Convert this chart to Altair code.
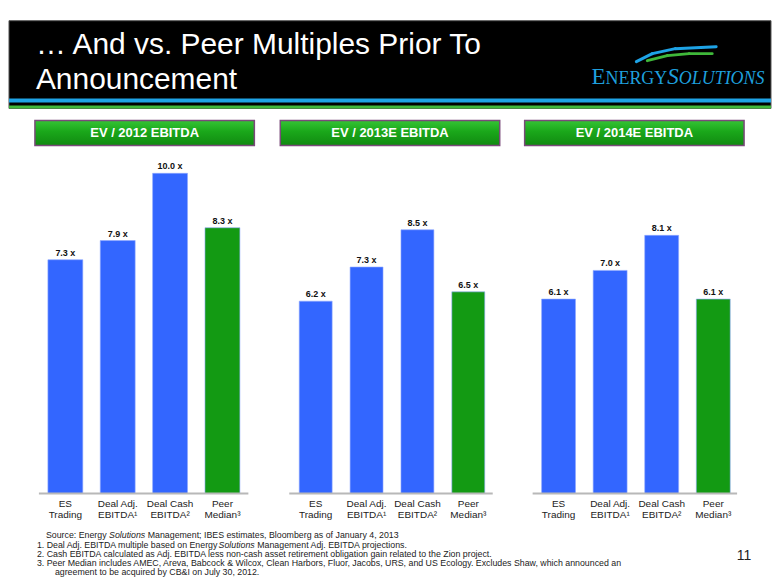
import altair as alt
import pandas as pd

# ---------------- data ----------------
categories = ["ES|Trading", "Deal Adj.|EBITDA¹", "Deal Cash|EBITDA²", "Peer|Median³"]
groups = ["deal", "deal", "deal", "peer"]
ev_2012 = [7.3, 7.9, 10.0, 8.3]
ev_2013 = [6.2, 7.3, 8.5, 6.5]
ev_2014 = [6.1, 7.0, 8.1, 6.1]
panel_titles = ["EV / 2012 EBITDA", "EV / 2013E EBITDA", "EV / 2014E EBITDA"]
title_lines = ["… And vs. Peer Multiples Prior To", "Announcement"]
footnotes = [
    [("Source:  Energy", False), ("Solutions", True),
     (" Management; IBES estimates, Bloomberg as of January 4, 2013", False)],
    [("1. Deal Adj. EBITDA multiple based on Energy", False), ("Solutions", True),
     (" Management Adj. EBITDA projections.", False)],
    [("2. Cash EBITDA calculated as Adj. EBITDA less non-cash asset retirement obligation gain related to the Zion project.", False)],
    [("3. Peer Median includes AMEC, Areva, Babcock & Wilcox, Clean Harbors, Fluor, Jacobs, URS, and US Ecology.  Excludes Shaw, which announced an", False)],
    [("agreement to be acquired by CB&I on July 30, 2012.", False)],
]
page_number = "11"

FONT = "Liberation Sans"
BLUE = "#3366ff"
GREEN = "#139a13"

# Arial / Liberation Sans advance widths (1/1000 em) for text layout
AW = dict(zip(" !\"#$%&'()*+,-./", [278, 278, 355, 556, 556, 889, 667, 191, 333, 333, 389, 584, 278, 333, 278, 278]))
AW.update({d: 556 for d in "0123456789"})
AW.update(dict(zip(":;<=>?@", [278, 278, 584, 584, 584, 556, 1015])))
AW.update(dict(zip("ABCDEFGHIJKLMNOPQRSTUVWXYZ",
                   [667, 667, 722, 722, 667, 611, 778, 722, 278, 500, 667, 556, 833, 722, 778, 667, 778, 722, 667, 611, 722, 667, 944, 667, 667, 611])))
AW.update(dict(zip("abcdefghijklmnopqrstuvwxyz",
                   [556, 556, 500, 556, 556, 278, 556, 556, 222, 222, 500, 222, 833, 556, 556, 556, 556, 333, 500, 278, 556, 500, 722, 500, 500, 500])))


def tw(s, fs):
    return sum(AW.get(c, 556) for c in s) * fs / 1000.0


one = pd.DataFrame({"k": [0]})

# ---------------- header ----------------
HW, HH = 764, 104
hdr = [
    alt.Chart(one).mark_rect(color="#000000", stroke="#555555", strokeWidth=1).encode(
        x=alt.value(0), x2=alt.value(HW), y=alt.value(12), y2=alt.value(100)),
    alt.Chart(one).mark_rect(color="#1ea3e6").encode(
        x=alt.value(0), x2=alt.value(HW), y=alt.value(90), y2=alt.value(94)),
    alt.Chart(one).mark_rect(color="#3fb83a").encode(
        x=alt.value(0), x2=alt.value(HW), y=alt.value(97), y2=alt.value(100)),
]
for i, line in enumerate(title_lines):
    hdr.append(alt.Chart(one).mark_text(
        text=line, font=FONT, fontSize=30, color="white", align="left", baseline="alphabetic"
    ).encode(x=alt.value(27), y=alt.value(45 + 35 * i)))

# logo swooshes
blue_pts = [(629, 53), (645, 45), (668, 40), (709, 38)]
green_pts = [(640, 52), (660, 47), (682, 45), (705, 45)]
for pts, col, w in [(blue_pts, "#1ea3e6", 3), (green_pts, "#3fb83a", 3)]:
    for (xa, ya), (xb, yb) in zip(pts[:-1], pts[1:]):
        hdr.append(alt.Chart(one).mark_rule(color=col, strokeWidth=w, strokeCap="round").encode(
            x=alt.value(xa), y=alt.value(ya), x2=alt.value(xb), y2=alt.value(yb)))

# logo word mark
TW_REG = {"E": 611, "N": 722, "R": 667, "G": 722, "Y": 722}
TW_IT = {"S": 500, "O": 722, "L": 556, "U": 722, "T": 556, "I": 333, "N": 667}
logo = [("E", 23, "normal", TW_REG), ("NERGY", 18, "normal", TW_REG),
        ("S", 23, "italic", TW_IT), ("OLUTIONS", 18, "italic", TW_IT)]
lx = 584
for txt, fs, style, tab in logo:
    hdr.append(alt.Chart(one).mark_text(
        text=txt, font="Liberation Serif", fontSize=fs, fontStyle=style, color="#1e9fdc",
        align="left", baseline="alphabetic"
    ).encode(x=alt.value(lx), y=alt.value(75)))
    lx += sum(tab[c] for c in txt) * fs / 1000.0

header = alt.layer(*hdr).properties(width=HW, height=HH)

# ---------------- panels ----------------
PH = 382


def panel(values, title, width, step, bw, offset, ymax, axis_x, banner_x):
    pi = 1 - bw / step
    extra = width - step * (4 - pi)
    po = extra / (2 * step)
    align = offset / extra
    df = pd.DataFrame({"cat": categories, "grp": groups, "v": values})
    x = alt.X("cat:N", sort=categories,
              scale=alt.Scale(paddingInner=pi, paddingOuter=po, align=align),
              axis=alt.Axis(title=None, labelExpr="split(datum.label, '|')", labelAngle=0,
                            domain=False, ticks=False, labelPadding=5, labelFontSize=10,
                            labelLineHeight=11, labelFont=FONT, labelColor="#222222"))
    y = alt.Y("v:Q", scale=alt.Scale(domain=[0, ymax], nice=False, zero=True), axis=None)
    base = alt.Chart(df)
    bars = base.mark_bar(stroke="#8fa8ff", strokeWidth=0.6).encode(
        x=x, y=y,
        color=alt.Color("grp:N", scale=alt.Scale(domain=["deal", "peer"], range=[BLUE, GREEN]), legend=None))
    labels = base.transform_calculate(lab="format(datum.v, '.1f') + ' x'").mark_text(
        font=FONT, fontSize=9, fontWeight="bold", color="#111111", baseline="alphabetic", dy=-4
    ).encode(x=x, y=y, text="lab:N")
    tdf = pd.DataFrame({"t": [title]})
    banner = alt.Chart(tdf).mark_rect(
        color=alt.LinearGradient(gradient="linear", x1=0, y1=0, x2=0, y2=1, stops=[
            alt.GradientStop(color="#35c435", offset=0),
            alt.GradientStop(color="#1aa71a", offset=0.45),
            alt.GradientStop(color="#118a11", offset=1)]),
        stroke="#7a4a7a", strokeWidth=1.5
    ).encode(x=alt.value(banner_x), x2=alt.value(banner_x + 220), y=alt.value(8), y2=alt.value(33))
    btext = alt.Chart(tdf).mark_text(
        font=FONT, fontSize=13, fontWeight="bold", color="white", baseline="middle", align="center"
    ).encode(x=alt.value(banner_x + 110), y=alt.value(21), text="t:N")
    rule = alt.Chart(one).mark_rule(color="#b8b8b8", strokeWidth=2).encode(
        x=alt.value(axis_x[0]), x2=alt.value(axis_x[1]), y=alt.value(PH))
    return alt.layer(banner, btext, bars, labels, rule).properties(width=width, height=PH)


p1 = panel(ev_2012, panel_titles[0], 272, 52.5, 35, 39, 382 / 32.1, (30, 240), 26)
p2 = panel(ev_2013, panel_titles[1], 245, 51.0, 33, 19, 382 / 31.1, (9, 213), 0)
p3 = panel(ev_2014, panel_titles[2], 247, 51.7, 34, 17, 382 / 31.95, (8, 213), 0)
panels = alt.hconcat(p1, p2, p3, spacing=0, bounds="flush")

# ---------------- footer ----------------
FH = 56
FS = 1.02 * 449 / tw(footnotes[2][0][0], 1)
starts = [37, 28, 28, 28, 46]
ys = [15, 24.2, 33.4, 42.6, 51.6]
ftr = [alt.Chart(one).mark_text(text="", fontSize=1).encode(x=alt.value(0), y=alt.value(0))]
for segs, x0, yy in zip(footnotes, starts, ys):
    cx = x0
    for txt, ital in segs:
        stripped = txt.lstrip(" ")
        lead = tw(txt[: len(txt) - len(stripped)], FS)
        ftr.append(alt.Chart(one).mark_text(
            text=stripped, font=FONT, fontSize=FS, fontStyle="italic" if ital else "normal",
            color="#222222", align="left", baseline="middle"
        ).encode(x=alt.value(cx + lead), y=alt.value(yy)))
        cx += tw(txt, FS)
ftr.append(alt.Chart(one).mark_text(
    text=page_number, font=FONT, fontSize=14, color="#222222", align="center", baseline="middle"
).encode(x=alt.value(737), y=alt.value(36)))
footer = alt.layer(*ftr).properties(width=764, height=FH)

chart = alt.vconcat(header, panels, footer, spacing=0).properties(
    padding=0
).configure_view(stroke=None).configure_axis(grid=False)

chart.save("out.html", embed_options={"renderer": "svg", "actions": False})
